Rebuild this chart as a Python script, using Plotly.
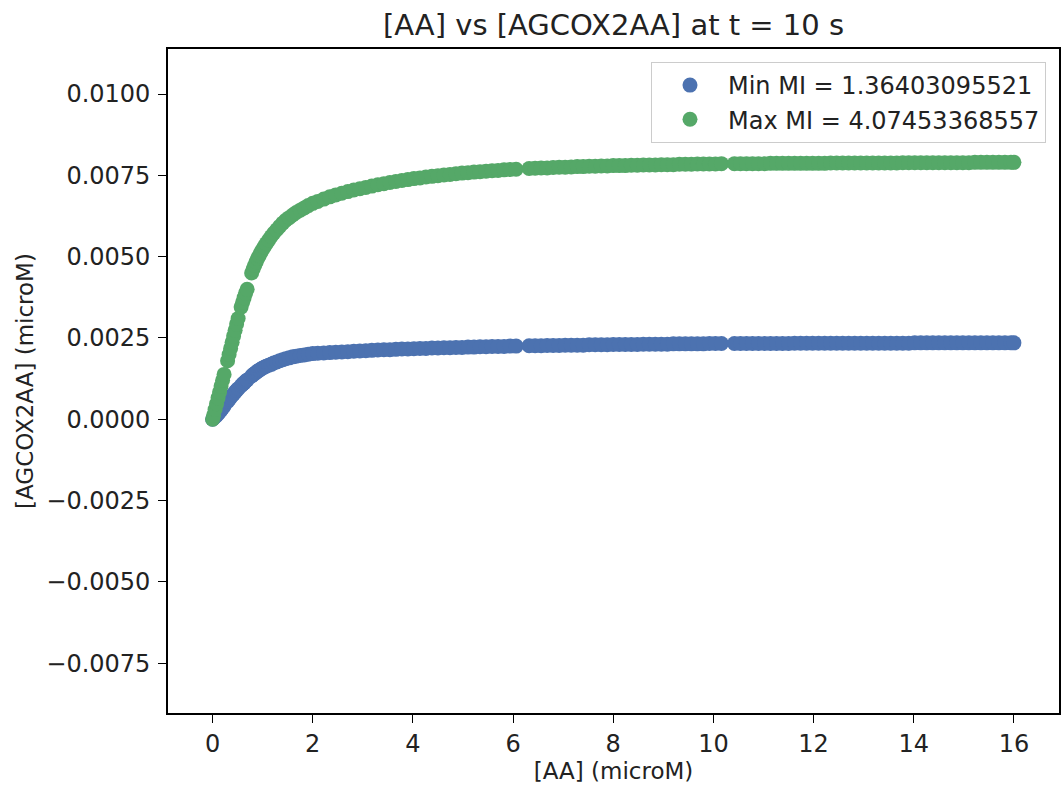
import plotly.graph_objects as go

# [AA] (microM) sample positions, shared by both series
x_aa = ([0.00, 0.02, 0.05, 0.08, 0.11, 0.14, 0.17, 0.20, 0.23, 0.30, 0.33, 0.36, 0.39, 0.42, 0.45, 0.48, 0.51,
         0.57, 0.60, 0.63, 0.66, 0.69, 0.78, 0.81, 0.84, 0.87, 0.90, 0.93, 0.96, 0.99, 1.03,
         1.07, 1.12, 1.17, 1.22, 1.28, 1.34, 1.40, 1.46, 1.53, 1.60, 1.67, 1.75, 1.83, 1.91, 2.00]
        + [2.10, 2.22, 2.34, 2.46, 2.58, 2.70, 2.82, 2.94, 3.06, 3.18, 3.30, 3.42, 3.54, 3.66, 3.78, 3.90,
           4.02, 4.14, 4.26, 4.38, 4.50, 4.62, 4.74, 4.86, 4.98, 5.10, 5.22, 5.34, 5.46, 5.58, 5.70, 5.82,
           5.94, 6.06]
        + [6.32, 6.44, 6.56, 6.68, 6.80, 6.92, 7.04, 7.16, 7.28, 7.40, 7.52, 7.64, 7.76, 7.88, 8.00, 8.12,
           8.24, 8.36, 8.48, 8.60, 8.72, 8.84, 8.96, 9.08, 9.20, 9.32, 9.44, 9.56, 9.68, 9.80, 9.92, 10.04,
           10.16]
        + [10.42, 10.54, 10.66, 10.78, 10.90, 11.02, 11.14, 11.26, 11.38, 11.50, 11.62, 11.74, 11.86, 11.98,
           12.10, 12.22, 12.34, 12.46, 12.58, 12.70, 12.82, 12.94, 13.06, 13.18, 13.30, 13.42, 13.54, 13.66,
           13.78, 13.90, 14.02, 14.14, 14.26, 14.38, 14.50, 14.62, 14.74, 14.86, 14.98, 15.10, 15.22, 15.34,
           15.46, 15.58, 15.70, 15.82, 15.94, 16.00])

# [AGCOX2AA] (microM), Min MI series
y_min_mi = ([0.0, 0.00003, 0.00008, 0.00012, 0.00017, 0.00023, 0.00029, 0.00035, 0.00041, 0.00055, 0.00061,
             0.00067, 0.00073, 0.00078, 0.00084, 0.00089, 0.00094,
             0.00103, 0.00108, 0.00112, 0.00117, 0.00121, 0.00133, 0.00137, 0.00141, 0.00144, 0.00148,
             0.00151, 0.00154, 0.00157, 0.00160,
             0.00163, 0.00166, 0.00169, 0.00173, 0.00176, 0.00180, 0.00183, 0.00186, 0.00189, 0.00192,
             0.00194, 0.00196, 0.00198, 0.00200, 0.00202]
            + [0.00203, 0.00204, 0.00205, 0.00206, 0.00207, 0.00208, 0.00209, 0.00210, 0.00211, 0.00212,
               0.00213, 0.00214, 0.00214, 0.00215, 0.00216, 0.00216, 0.00217, 0.00218, 0.00218, 0.00219,
               0.00219, 0.00220, 0.00220, 0.00221, 0.00221, 0.00222, 0.00222, 0.00223, 0.00223, 0.00224,
               0.00224, 0.00224, 0.00225, 0.00225]
            + [0.00226, 0.00226, 0.00226, 0.00227, 0.00227, 0.00227, 0.00228, 0.00228, 0.00228, 0.00228,
               0.00229, 0.00229, 0.00229, 0.00229, 0.00230, 0.00230, 0.00230, 0.00230, 0.00230, 0.00231,
               0.00231, 0.00231, 0.00231, 0.00231, 0.00232, 0.00232, 0.00232, 0.00232, 0.00232, 0.00232,
               0.00233, 0.00233, 0.00233]
            + [0.00233, 0.00233, 0.00233, 0.00233, 0.00233, 0.00233, 0.00233, 0.00233, 0.00233, 0.00233,
               0.00234, 0.00234, 0.00234, 0.00234, 0.00234, 0.00234, 0.00234, 0.00234, 0.00234, 0.00234,
               0.00234, 0.00234, 0.00234, 0.00234, 0.00234, 0.00234, 0.00234, 0.00234, 0.00234, 0.00234,
               0.00235, 0.00235, 0.00235, 0.00235, 0.00235, 0.00235, 0.00235, 0.00235, 0.00235, 0.00235,
               0.00235, 0.00235, 0.00235, 0.00235, 0.00235, 0.00235, 0.00235, 0.00235])

# [AGCOX2AA] (microM), Max MI series
y_max_mi = ([0.0, 0.00012, 0.00030, 0.00048, 0.00066, 0.00084, 0.00102, 0.00120, 0.00138, 0.00180, 0.00199,
             0.00218, 0.00237, 0.00256, 0.00274, 0.00293, 0.00310,
             0.00345, 0.00360, 0.00374, 0.00388, 0.00400, 0.00450, 0.00462, 0.00473, 0.00484, 0.00494,
             0.00503, 0.00512, 0.00520, 0.00530,
             0.00540, 0.00551, 0.00562, 0.00572, 0.00583, 0.00593, 0.00603, 0.00612, 0.00620, 0.00628,
             0.00636, 0.00643, 0.00650, 0.00657, 0.00664]
            + [0.00670, 0.00677, 0.00684, 0.00690, 0.00695, 0.00700, 0.00705, 0.00709, 0.00713, 0.00717,
               0.00721, 0.00724, 0.00728, 0.00731, 0.00734, 0.00737, 0.00740, 0.00742, 0.00745, 0.00747,
               0.00749, 0.00751, 0.00753, 0.00755, 0.00757, 0.00758, 0.00760, 0.00761, 0.00763, 0.00764,
               0.00765, 0.00767, 0.00768, 0.00769]
            + [0.00771, 0.00772, 0.00773, 0.00773, 0.00774, 0.00775, 0.00775, 0.00776, 0.00777, 0.00777,
               0.00778, 0.00778, 0.00779, 0.00779, 0.00780, 0.00780, 0.00780, 0.00781, 0.00781, 0.00782,
               0.00782, 0.00782, 0.00783, 0.00783, 0.00783, 0.00784, 0.00784, 0.00784, 0.00785, 0.00785,
               0.00785, 0.00785, 0.00786]
            + [0.00786, 0.00786, 0.00786, 0.00786, 0.00786, 0.00786, 0.00787, 0.00787, 0.00787, 0.00787,
               0.00787, 0.00787, 0.00787, 0.00787, 0.00787, 0.00787, 0.00788, 0.00788, 0.00788, 0.00788,
               0.00788, 0.00788, 0.00788, 0.00788, 0.00788, 0.00788, 0.00788, 0.00788, 0.00789, 0.00789,
               0.00789, 0.00789, 0.00789, 0.00789, 0.00789, 0.00789, 0.00789, 0.00789, 0.00789, 0.00789,
               0.00790, 0.00790, 0.00790, 0.00790, 0.00790, 0.00790, 0.00790, 0.00790])

assert len(x_aa) == len(y_min_mi) == len(y_max_mi)

series_names = ["Min MI = 1.36403095521", "Max MI = 4.07453368557"]
series_colors = ["#4C72B0", "#55A868"]

FONT = "DejaVu Sans"
TXT = "#222222"

fig = go.Figure()
for name, ys, col in zip(series_names, [y_min_mi, y_max_mi], series_colors):
    fig.add_trace(go.Scatter(
        x=x_aa, y=ys, mode="markers", name=name,
        marker=dict(color=col, size=15, line=dict(width=0)),
    ))

axis_common = dict(
    showline=True, linecolor="black", linewidth=1.6, mirror=True,
    ticks="outside", ticklen=8, tickwidth=1.4, tickcolor="black",
    showgrid=False, zeroline=False,
    tickfont=dict(family=FONT, size=24, color=TXT),
)

fig.update_layout(
    width=1064, height=788,
    margin=dict(l=168, r=3, t=49, b=75),
    paper_bgcolor="white", plot_bgcolor="white",
    font=dict(family=FONT, color=TXT),
    title=dict(text="[AA] vs [AGCOX2AA] at t = 10 s", x=0.5, xref="paper",
               y=1 - 25 / 788, yref="container", yanchor="middle",
               font=dict(family=FONT, size=29, color=TXT)),
    xaxis=dict(range=[-0.89, 16.9], tick0=0, dtick=2,
               title=dict(text="[AA] (microM)", font=dict(family=FONT, size=23, color=TXT), standoff=4),
               **axis_common),
    yaxis=dict(range=[-0.00903, 0.011385], tick0=0, dtick=0.0025, tickformat=".4f",
               ticklabelstandoff=3,
               title=dict(text="[AGCOX2AA] (microM)", font=dict(family=FONT, size=23, color=TXT), standoff=6),
               **axis_common),
    legend=dict(x=0.9854, y=0.9804, xanchor="right", yanchor="top",
                bordercolor="#cccccc", borderwidth=1, bgcolor="rgba(255,255,255,0.9)",
                font=dict(family=FONT, size=24, color=TXT), itemwidth=66),
    showlegend=True,
)

fig.write_html("out.html")
